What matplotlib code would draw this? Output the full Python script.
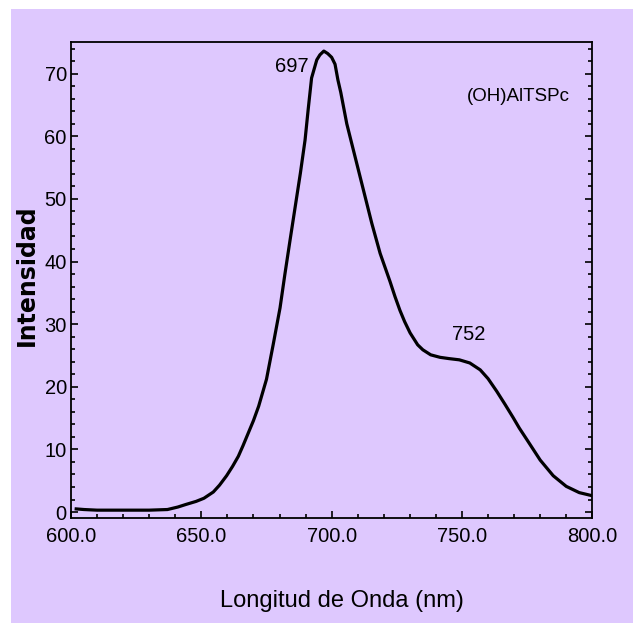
import matplotlib
matplotlib.use('Agg')
import matplotlib.pyplot as plt
from matplotlib.patches import Rectangle
from matplotlib.ticker import MultipleLocator, FormatStrFormatter

# emission spectrum
wavelength = [602, 605, 610, 620, 630, 637, 641, 644, 648, 651, 654.6, 657, 659.7, 662,
              664.2, 666, 668, 670, 672, 675, 677.6, 680.2, 682, 684, 686, 688, 689.8,
              691, 692.3, 694.3, 695.5, 697, 698.5, 700, 701.3, 702.4, 703.5, 705.8,
              709, 712.2, 715.4, 718.6, 722.4, 724.3, 726.2, 728, 730.1, 733, 735,
              738, 741.6, 745, 749, 753, 757, 760, 763.3, 766.5, 769.6, 772, 775,
              780, 785, 790, 795, 800]
intensity = [0.5, 0.4, 0.3, 0.3, 0.3, 0.4, 0.8, 1.2, 1.7, 2.2, 3.2, 4.3, 5.8, 7.3,
             8.9, 10.6, 12.6, 14.6, 16.9, 21.2, 26.8, 32.6, 37.8, 43.3, 48.7, 54.1, 59.4,
             64.3, 69.3, 72.2, 73.0, 73.6, 73.2, 72.6, 71.5, 69.0, 67.0, 62.0,
             56.7, 51.4, 46.1, 41.3, 36.8, 34.4, 32.2, 30.4, 28.6, 26.7, 25.9,
             25.1, 24.7, 24.5, 24.3, 23.8, 22.7, 21.3, 19.3, 17.2, 15.1, 13.4, 11.5,
             8.3, 5.8, 4.1, 3.1, 2.6]

peak_labels = ['697', '752']
peak_pos = [(684.8, 70.3), (752.4, 27.4)]
sample_name = '(OH)AlTSPc'

bg = '#DEC8FE'
font = ['Liberation Sans', 'DejaVu Sans']

fig = plt.figure(figsize=(6.33, 6.23), dpi=100)
fig.patch.set_facecolor('white')
fig.patches.append(Rectangle((11 / 633, 0), 1, 614 / 623, transform=fig.transFigure,
                             facecolor=bg, edgecolor='none', zorder=-10))

ax = fig.add_axes([71 / 633, 104.7 / 623, 521.3 / 633, 476 / 623])
ax.set_facecolor(bg)
ax.plot(wavelength, intensity, color='black', lw=2.3, solid_joinstyle='round')

ax.set_xlim(600, 800)
ax.set_ylim(-1, 75)
ax.xaxis.set_major_locator(MultipleLocator(50))
ax.xaxis.set_minor_locator(MultipleLocator(10))
ax.xaxis.set_major_formatter(FormatStrFormatter('%.1f'))
ax.yaxis.set_major_locator(MultipleLocator(10))
ax.yaxis.set_minor_locator(MultipleLocator(2))

ax.tick_params(which='both', direction='in', left=True, right=True, bottom=True, top=False,
               width=1.2)
ax.tick_params(which='major', length=5)
ax.tick_params(which='minor', length=3)
ax.tick_params(axis='x', pad=6)
ax.tick_params(axis='y', pad=3)
for lab in ax.get_xticklabels() + ax.get_yticklabels():
    lab.set_fontfamily(font)
    lab.set_fontsize(14.5)
for s in ax.spines.values():
    s.set_linewidth(1.3)

for txt, (px, py) in zip(peak_labels, peak_pos):
    ax.text(px, py, txt, ha='center', va='baseline', fontsize=14.5, family=font)
ax.text(771.6, 65.6, sample_name, ha='center', va='baseline', fontsize=13.5, family=font)

fig.text(342 / 633, 16 / 623, 'Longitud de Onda (nm)', ha='center', va='baseline',
         fontsize=17, family=font)
fig.text(26.5 / 633, (623 - 275.5) / 623, 'Intensidad', rotation=90, ha='center',
         va='center', fontsize=17, fontweight='bold', family='DejaVu Sans')

fig.savefig('out.png', dpi=100, facecolor=fig.get_facecolor())
